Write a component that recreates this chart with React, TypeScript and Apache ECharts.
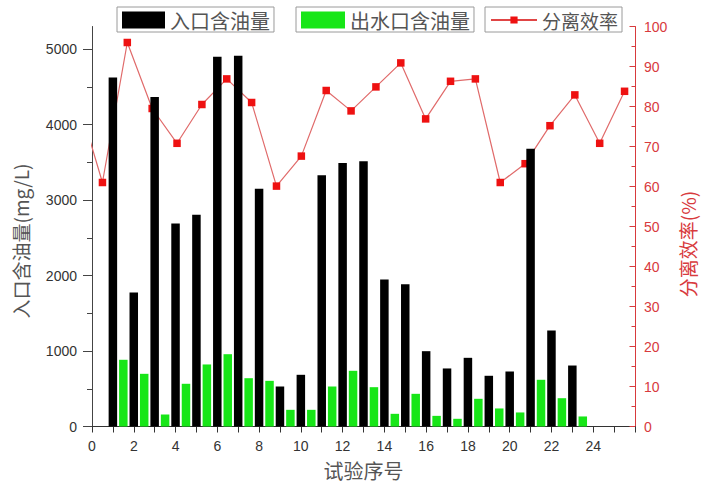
import React, { useEffect, useRef } from "react";
import * as echarts from "echarts";

// ---- data ----
const trialNo = [1, 2, 3, 4, 5, 6, 7, 8, 9, 10, 11, 12, 13, 14, 15, 16, 17, 18, 19, 20, 21, 22, 23];
const inletOil = [4624, 1775, 4365, 2690, 2805, 4898, 4912, 3150, 530, 685, 3330, 3490, 3516, 1948, 1886, 998, 769, 910, 672, 729, 3680, 1272, 808];
const outletOil = [884, 698, 159, 566, 822, 958, 640, 605, 221, 221, 530, 738, 521, 168, 433, 141, 102, 367, 239, 186, 619, 375, 133];
const efficiency = [82, 61, 96, 79.5, 70.8, 80.5, 86.9, 81, 60.1, 67.6, 84, 78.9, 84.9, 90.9, 76.9, 86.3, 86.9, 61, 65.7, 75.2, 82.9, 70.8, 83.8];
const leftMajorTicks = [0, 1000, 2000, 3000, 4000, 5000];
const leftMinorTicks = [500, 1500, 2500, 3500, 4500];

const seriesNames = ["入口含油量", "出水口含油量", "分离效率"];
const leftAxisName = "入口含油量(mg/L)";
const rightAxisName = "分离效率(%)";
const xAxisName = "试验序号";

const RED = "#d83a3d";
const LABEL_FONT = "'Liberation Sans', Arial, sans-serif";
const CJK_FONT = "'Noto Sans CJK SC', sans-serif";

export default function App() {
  const ref = useRef<HTMLDivElement>(null);
  useEffect(() => {
    if (!ref.current) return;
    const chart = echarts.init(ref.current, undefined, { renderer: "svg" });
    const legendCommon = {
      orient: "horizontal",
      borderColor: "#9a9a9a",
      borderWidth: 1,
      borderRadius: 0,
      itemHeight: 17,
      selectedMode: false,
      textStyle: { fontFamily: CJK_FONT, fontSize: 20, color: "#555", lineHeight: 20 },
      padding: [3, 4, 2, 5],
    };
    const gridBox = { left: 92, right: 74, top: 26.5, bottom: 59.5, containLabel: false };
    chart.setOption({
      animation: false,
      backgroundColor: "#fff",
      grid: [gridBox, { ...gridBox }],
      legend: [
        { ...legendCommon, data: [{ name: seriesNames[0], icon: "rect" }], left: 117, top: 7, itemWidth: 43 },
        { ...legendCommon, data: [{ name: seriesNames[1], icon: "rect" }], left: 296, top: 7, itemWidth: 44 },
        {
          ...legendCommon,
          data: [seriesNames[2]],
          left: 485,
          top: 7,
          itemWidth: 46,
          itemHeight: 9,
          lineStyle: { width: 2, color: "#e04545" },
          textStyle: { ...legendCommon.textStyle, fontSize: 19 },
        },
      ],
      xAxis: [
        {
          type: "value",
          gridIndex: 0,
          min: 0,
          max: 26,
          interval: 1,
          axisLine: { onZero: false, lineStyle: { color: "#333", width: 1 } },
          axisTick: { show: true, inside: false, length: 6, lineStyle: { color: "#333" } },
          axisLabel: {
            margin: 12,
            color: "#333",
            fontSize: 14,
            fontFamily: LABEL_FONT,
            formatter: (v: number) => (v % 2 === 0 && v <= 24 ? String(v) : ""),
          },
          splitLine: { show: false },
        },
        { type: "value", gridIndex: 0, min: -0.5, max: 25.5, show: false },
        { type: "value", gridIndex: 0, min: 1.58, max: 23.42, show: false },
        { type: "value", gridIndex: 1, min: 0, max: 26, show: false },
      ],
      yAxis: [
        {
          type: "value",
          gridIndex: 0,
          position: "left",
          min: 0,
          max: 5300,
          interval: 1000,
          axisLine: { show: true, onZero: false, lineStyle: { color: "#444" } },
          axisTick: { show: true, inside: false, length: 9, customValues: leftMajorTicks, lineStyle: { color: "#444" } },
          axisLabel: {
            margin: 15,
            color: "#333",
            fontSize: 14,
            fontFamily: LABEL_FONT,
            customValues: leftMajorTicks,
            formatter: (v: number) => String(v),
          },
          splitLine: { show: false },
        },
        {
          type: "value",
          gridIndex: 0,
          position: "right",
          min: 0,
          max: 100,
          interval: 10,
          axisLine: { show: true, onZero: false, lineStyle: { color: RED } },
          axisTick: { show: true, inside: true, length: 5.5, lineStyle: { color: RED } },
          minorTick: { show: true, splitNumber: 2, length: 3.5, lineStyle: { color: RED } },
          axisLabel: { margin: 9, color: RED, fontSize: 14, fontFamily: LABEL_FONT },
          splitLine: { show: false },
        },
        {
          type: "value",
          gridIndex: 1,
          position: "left",
          offset: 0,
          min: 0,
          max: 5300,
          interval: 1000,
          axisLine: { show: false, onZero: false },
          axisTick: { show: true, inside: false, length: 5, customValues: leftMinorTicks, lineStyle: { color: "#444" } },
          axisLabel: { show: false },
          splitLine: { show: false },
        },
      ],
      series: [
        {
          name: seriesNames[0],
          type: "bar",
          xAxisIndex: 0,
          yAxisIndex: 0,
          barWidth: 8.5,
          z: 3,
          itemStyle: { color: "#000" },
          data: trialNo.map((t, i) => [t, inletOil[i]]),
        },
        {
          name: seriesNames[1],
          type: "bar",
          xAxisIndex: 1,
          yAxisIndex: 0,
          barWidth: 8.5,
          z: 3,
          itemStyle: { color: "#17e617" },
          data: trialNo.map((t, i) => [t, outletOil[i]]),
        },
        {
          name: seriesNames[2],
          type: "line",
          xAxisIndex: 2,
          yAxisIndex: 1,
          z: 1,
          clip: true,
          symbol: "rect",
          symbolSize: 7.5,
          lineStyle: { color: "#e06a6a", width: 1.2 },
          itemStyle: { color: "#ee1111" },
          data: trialNo.map((t, i) => [t, efficiency[i]]),
        },
      ],
      graphic: [
        {
          type: "text",
          x: 20,
          y: 241,
          rotation: Math.PI / 2,
          style: { text: leftAxisName, fontFamily: CJK_FONT, fontSize: 19, fill: "#555", align: "center", verticalAlign: "middle" },
        },
        {
          type: "text",
          x: 687,
          y: 244,
          rotation: Math.PI / 2,
          style: { text: rightAxisName, fontFamily: CJK_FONT, fontSize: 19, fill: RED, align: "center", verticalAlign: "middle" },
        },
        {
          type: "text",
          x: 363.5,
          y: 470,
          style: { text: xAxisName, fontFamily: CJK_FONT, fontSize: 20, fill: "#555", align: "center", verticalAlign: "middle" },
        },
      ],
    });
    return () => chart.dispose();
  }, []);
  return <div ref={ref} style={{ width: 709, height: 486, position: "absolute", left: 0, top: 0 }} />;
}
